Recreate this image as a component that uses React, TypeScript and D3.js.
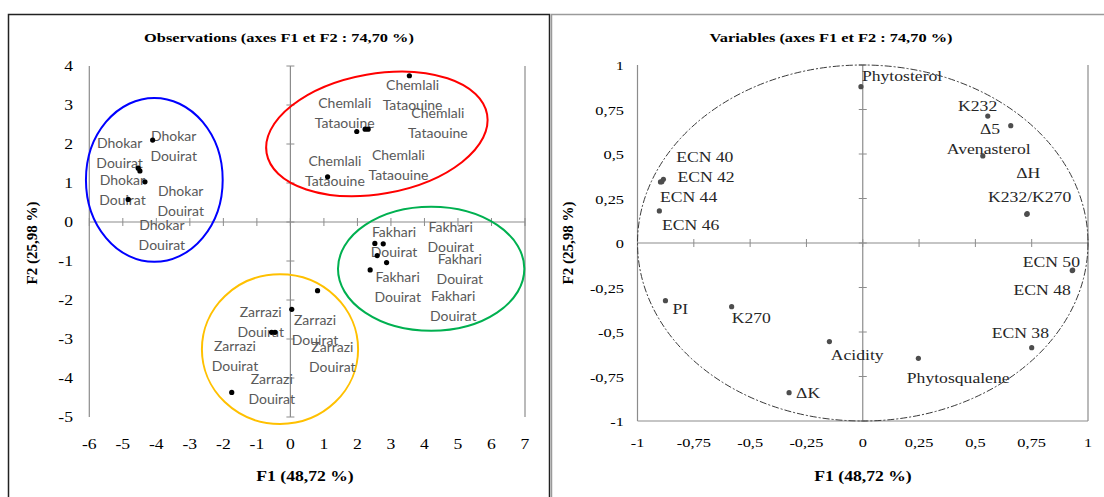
import React from 'react';
import * as d3 from 'd3';

const W = 1104;
const H = 497;
const SX = 1.26; // the original figure is stretched horizontally

// ---- Observations (F1 / F2 scores) ----
const groupNames = ['Dhokar', 'Chemlali', 'Fakhari', 'Zarrazi'];
const groupSites = ['Douirat', 'Tataouine', 'Douirat', 'Douirat'];
const dhokarF1 = [-4.11, -4.54, -4.49, -4.34, -4.84];
const dhokarF2 = [2.1, 1.38, 1.31, 1.03, 0.58];
const chemlaliF1 = [3.55, 1.98, 2.23, 2.32, 1.11];
const chemlaliF2 = [3.75, 2.32, 2.38, 2.38, 1.16];
const fakhariF1 = [2.52, 2.77, 2.59, 2.87, 2.38];
const fakhariF2 = [-0.55, -0.56, -0.86, -1.04, -1.23];
const zarraziF1 = [0.04, 0.81, -0.56, -0.46, -1.75];
const zarraziF2 = [-2.24, -1.76, -2.83, -2.83, -4.37];
const obsTicksX = d3.range(-6, 8);
const obsTicksY = d3.range(-5, 5);

// ---- Variables (correlations with F1 / F2) ----
const varNames = ['Phytosterol', 'K232', 'Δ5', 'Avenasterol', 'ΔH', 'K232/K270', 'ECN 50', 'ECN 48',
  'ECN 38', 'Phytosqualene', 'Acidity', 'ΔK', 'K270', 'PI', 'ECN 40', 'ECN 42', 'ECN 44', 'ECN 46'];
const varF1 = [-0.008, 0.555, 0.657, 0.533, 0.73, 0.728, 0.932, 0.93,
  0.75, 0.247, -0.148, -0.327, -0.582, -0.876, -0.892, -0.885, -0.898, -0.903];
const varF2 = [0.878, 0.713, 0.659, 0.489, 0.165, 0.161, -0.152, -0.155,
  -0.588, -0.648, -0.554, -0.841, -0.358, -0.324, 0.344, 0.358, 0.343, 0.18];
const corTicks = [-1, -0.75, -0.5, -0.25, 0, 0.25, 0.5, 0.75, 1];

// manual label placement (pixels, relative to the point)
const obsLabelOffsets = [
  [[21, 6], [-18.6, -15], [-17.5, 19], [35.8, 19.6], [33.7, 35.4]],
  [[3.2, 18.8], [-12, -18.4], [33.3, 36], [69.7, -5.7], [7.3, -5.9]],
  [[19.2, -1.6], [67.5, -6.5], [76, 50.3], [73.3, 6.1], [27.5, 17.3]],
  [[23.3, 20.7], [14.8, 66.8], [-10.9, -10.6], [-40, 23.5], [40, -3]],
];
const varLabelOffsets = [
  [1, -10.7], [-29.7, -10.3], [-30.7, 3.6], [-36, -6.7], [-11, -41], [-38.7, -17.6], [-50, -7.7], [-58.7, 19.3],
  [-40, -15], [-11.6, 19.4], [1.4, 13.3], [7, 0], [0, 11.6], [7, 8.3], [14.3, -25], [14, -2.6], [-0.5, 14.7], [2.7, 14],
];
// group ellipses, in data units: cx, cy, rx, ry, rotation
const groupEllipses = [
  { color: '#0000FF', cx: -4.06, cy: 1.08, rx: 2.04, ry: 2.1, rot: 0 },
  { color: '#FF0000', cx: 2.58, cy: 2.26, rx: 3.34, ry: 1.54, rot: -10 },
  { color: '#00B050', cx: 4.2, cy: -1.2, rx: 2.78, ry: 1.59, rot: 0 },
  { color: '#FFC000', cx: -0.31, cy: -3.26, rx: 2.33, ry: 1.92, rot: 0 },
];

const serif = '"Liberation Serif", "Times New Roman", serif';
const sans = 'Lato, "Open Sans", sans-serif';
const fmt = (d: number) => String(d).replace('.', ',');

function SText({ x, y, anchor = 'start', size = 14, bold = false, fill = '#000', children }: any) {
  return (
    <text transform={`translate(${x},${y}) scale(${SX},1)`} textAnchor={anchor}
      fontFamily={serif} fontSize={size} fontWeight={bold ? 'bold' : 'normal'} fill={fill}>
      {children}
    </text>
  );
}

function Observations() {
  const x = d3.scaleLinear().domain([-6, 7]).range([89.3, 525]);
  const y = d3.scaleLinear().domain([-5, 4]).range([417, 66]);
  const series = [
    [dhokarF1, dhokarF2], [chemlaliF1, chemlaliF2], [fakhariF1, fakhariF2], [zarraziF1, zarraziF2],
  ];
  const axisColor = '#8c8c8c';
  return (
    <g>
      <rect x={8.5} y={14.5} width={541} height={500} fill="#fff" stroke="#222" strokeWidth={1.5} />
      <SText x={279} y={42} anchor="middle" size={13} bold>Observations (axes F1 et F2 : 74,70 %)</SText>
      {/* side lines */}
      <line x1={x(-6)} x2={x(-6)} y1={y(4)} y2={y(-5)} stroke={axisColor} strokeWidth={1.2} />
      <line x1={x(7)} x2={x(7)} y1={y(4)} y2={y(-5)} stroke={axisColor} strokeWidth={1.2} />
      {/* axes through 0 */}
      <line x1={x(-6)} x2={x(7)} y1={y(0)} y2={y(0)} stroke={axisColor} strokeWidth={1.2} />
      <line x1={x(0)} x2={x(0)} y1={y(4)} y2={y(-5)} stroke={axisColor} strokeWidth={1.2} />
      {obsTicksX.map(t => (
        <line key={'tx' + t} x1={x(t)} x2={x(t)} y1={y(0) - 4} y2={y(0) + 4} stroke={axisColor} />
      ))}
      {obsTicksY.map(t => (
        <line key={'ty' + t} x1={x(0) - 4} x2={x(0) + 4} y1={y(t)} y2={y(t)} stroke={axisColor} />
      ))}
      {obsTicksX.map(t => (
        <SText key={'lx' + t} x={x(t)} y={449} anchor="middle">{fmt(t)}</SText>
      ))}
      {obsTicksY.map(t => (
        <SText key={'ly' + t} x={73} y={y(t) + 5} anchor="end">{fmt(t)}</SText>
      ))}
      <SText x={305} y={481} anchor="middle" bold>F1 (48,72 %)</SText>
      <text transform="translate(37,243) rotate(-90)" textAnchor="middle" fontFamily={serif}
        fontSize={15} fontWeight="bold">F2 (25,98 %)</text>
      {/* group ellipses */}
      {groupEllipses.map((e, i) => {
        const cx = x(e.cx), cy = y(e.cy);
        return (
          <ellipse key={'e' + i} cx={cx} cy={cy} rx={x(e.rx) - x(0)} ry={y(0) - y(e.ry)}
            transform={`rotate(${e.rot},${cx},${cy})`} fill="none" stroke={e.color} strokeWidth={2} />
        );
      })}
      {/* labels */}
      {series.map(([f1, f2], g) => f1.map((v, i) => {
        const [dx, dy] = obsLabelOffsets[g][i];
        const cx = x(v) + dx, cy = y(f2[i]) + dy;
        return (
          <text key={`l${g}-${i}`} textAnchor="middle" fontFamily={sans} fontSize={14} fill="#595959">
            <tspan x={cx} y={cy - 5}>{groupNames[g]}</tspan>
            <tspan x={cx} y={cy + 15}>{groupSites[g]}</tspan>
          </text>
        );
      }))}
      {/* points */}
      {series.map(([f1, f2], g) => f1.map((v, i) => (
        <circle key={`p${g}-${i}`} cx={x(v)} cy={y(f2[i])} r={2.6} fill="#000" />
      )))}
    </g>
  );
}

function Variables() {
  const x = d3.scaleLinear().domain([-1, 1]).range([637.5, 1088]);
  const y = d3.scaleLinear().domain([-1, 1]).range([421, 65]);
  const axisColor = '#8c8c8c';
  return (
    <g>
      <rect x={551.5} y={14.5} width={560} height={500} fill="#fff" stroke="#9a9a9a" strokeWidth={1.5} />
      <SText x={831} y={42} anchor="middle" size={13} bold>Variables (axes F1 et F2 : 74,70 %)</SText>
      <line x1={x(-1)} x2={x(-1)} y1={y(1)} y2={y(-1)} stroke={axisColor} strokeWidth={1.2} />
      <line x1={x(1)} x2={x(1)} y1={y(1)} y2={y(-1)} stroke={axisColor} strokeWidth={1.2} />
      <line x1={x(-1)} x2={x(1)} y1={y(-1)} y2={y(-1)} stroke={axisColor} strokeWidth={1.2} />
      <line x1={x(-1)} x2={x(1)} y1={y(0)} y2={y(0)} stroke={axisColor} strokeWidth={1.2} />
      <line x1={x(0)} x2={x(0)} y1={y(1)} y2={y(-1)} stroke={axisColor} strokeWidth={1.2} />
      {corTicks.map(t => (
        <line key={'tx' + t} x1={x(t)} x2={x(t)} y1={y(0) - 4} y2={y(0) + 4} stroke={axisColor} />
      ))}
      {corTicks.map(t => (
        <line key={'ty' + t} x1={x(0) - 4} x2={x(0) + 4} y1={y(t)} y2={y(t)} stroke={axisColor} />
      ))}
      {corTicks.map(t => (
        <SText key={'lx' + t} x={x(t)} y={447} anchor="middle" size={13}>{fmt(t)}</SText>
      ))}
      {corTicks.map(t => (
        <SText key={'ly' + t} x={624} y={y(t) + 5} anchor="end" size={13}>{fmt(t)}</SText>
      ))}
      <SText x={863} y={481} anchor="middle" bold>F1 (48,72 %)</SText>
      <text transform="translate(573,243) rotate(-90)" textAnchor="middle" fontFamily={serif}
        fontSize={15} fontWeight="bold">F2 (25,98 %)</text>
      {/* correlation circle */}
      <ellipse cx={x(0)} cy={y(0)} rx={x(1) - x(0)} ry={y(0) - y(1)} fill="none" stroke="#3a3a3a"
        strokeWidth={1} strokeDasharray="7 2 2 2" />
      {varNames.map((n, i) => {
        const [dx, dy] = varLabelOffsets[i];
        return (
          <SText key={'vl' + i} x={x(varF1[i]) + dx} y={y(varF2[i]) + dy + 5} fill="#262626">{n}</SText>
        );
      })}
      {varNames.map((n, i) => (
        <circle key={'vp' + i} cx={x(varF1[i])} cy={y(varF2[i])} r={2.6} fill="#4d4d4d" />
      ))}
    </g>
  );
}

export default function App() {
  return (
    <svg width={W} height={H} style={{ position: 'absolute', left: 0, top: 0, background: '#fff' }}>
      <rect width={W} height={H} fill="#fff" />
      <Observations />
      <Variables />
    </svg>
  );
}
